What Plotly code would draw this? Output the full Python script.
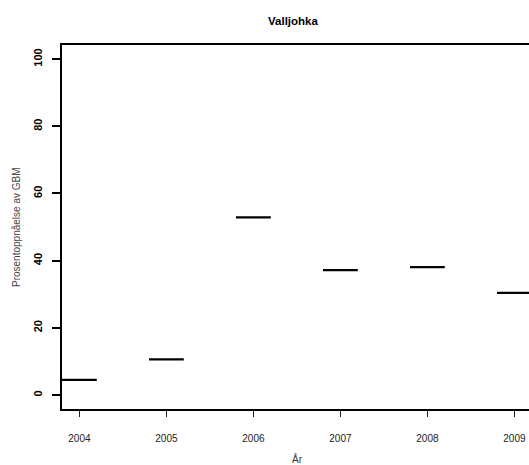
import plotly.graph_objects as go

years = [2004, 2005, 2006, 2007, 2008, 2009]
values = [4.5, 10.6, 52.9, 37.2, 38.1, 30.4]
y_ticks = [0, 20, 40, 60, 80, 100]
title = "Valljohka"
x_title = "År"
y_title = "Prosentoppnåelse av GBM"

half = 0.2
xs, ys = [], []
for yr, v in zip(years, values):
    xs += [yr - half, yr + half, None]
    ys += [v, v, None]

fig = go.Figure()
fig.add_trace(go.Scatter(x=xs, y=ys, mode="lines",
                         line=dict(color="black", width=2.2),
                         hoverinfo="skip", showlegend=False, cliponaxis=True))

W, H = 529, 465
L, R, T, B = 62, 0, 45, 56
fig.update_layout(
    width=W, height=H,
    margin=dict(l=L, r=R, t=T, b=B, pad=0, autoexpand=False),
    paper_bgcolor="white", plot_bgcolor="white",
    font=dict(family="Liberation Sans, Arial, sans-serif", color="black"),
    showlegend=False,
    xaxis=dict(
        automargin=False,
        range=[2003.8, 2003.8 + 467 / 87],
        tickvals=years, ticktext=[str(y) for y in years],
        ticks="outside", ticklen=6, tickwidth=1, tickcolor="#222",
        tickfont=dict(size=10, color="#222"),
        ticklabelstandoff=13,
        showline=True, linecolor="black", linewidth=2, mirror=True,
        showgrid=False, zeroline=False,
    ),
    yaxis=dict(
        automargin=False,
        range=[-4.15, 104.2],
        tickvals=y_ticks, ticktext=[str(v) for v in y_ticks],
        ticks="outside", ticklen=8, tickwidth=2, tickcolor="black",
        tickangle=-90,
        tickfont=dict(size=11, color="black", weight="bold"),
        ticklabelstandoff=6,
        showline=True, linecolor="black", linewidth=2, mirror=True,
        showgrid=False, zeroline=False,
    ),
    annotations=[
        dict(text="<b>" + title + "</b>", x=293, y=H - 21, xref="paper", yref="paper",
             showarrow=False, font=dict(size=11.5, color="black"),
             xanchor="center", yanchor="middle"),
        dict(text=x_title, x=297, y=H - 459, xref="paper", yref="paper",
             showarrow=False, font=dict(size=10, color="#333333"),
             xanchor="center", yanchor="middle"),
        dict(text=y_title, x=16, y=H - 227, xref="paper", yref="paper",
             showarrow=False, textangle=-90, font=dict(size=10, color="#444444"),
             xanchor="center", yanchor="middle"),
    ],
)

# convert annotation pixel coords to paper coords
pw, ph = W - L - R, H - T - B
for a in fig.layout.annotations:
    a.x = (a.x - L) / pw
    a.y = (a.y - B) / ph

fig.write_html("out.html",
               config={"displayModeBar": False, "staticPlot": True},
               post_script="document.body.style.margin='0';document.body.style.overflow='hidden';")
